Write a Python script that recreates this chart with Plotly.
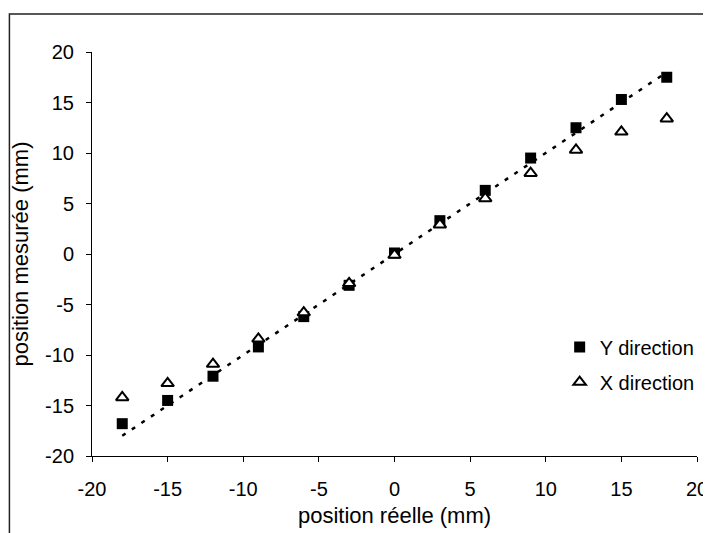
import plotly.graph_objects as go

# Data
positions_reelles = [-18, -15, -12, -9, -6, -3, 0, 3, 6, 9, 12, 15, 18]
y_direction = [-16.8, -14.5, -12.1, -9.2, -6.2, -3.1, 0.1, 3.3, 6.3, 9.5, 12.5, 15.3, 17.5]
x_direction = [-14.2, -12.8, -10.9, -8.4, -5.8, -2.9, -0.1, 2.9, 5.5, 8.0, 10.3, 12.1, 13.4]
tick_vals = [-20, -15, -10, -5, 0, 5, 10, 15, 20]
tick_text = ["-20", "-15", "-10", "-5", "0", "5", "10", "15", "20"]

# ideal line y = x over the measured range
ideal_x = [positions_reelles[0], positions_reelles[-1]]
ideal_y = list(ideal_x)

FONT = "Arial, Liberation Sans, sans-serif"

fig = go.Figure()

fig.add_trace(go.Scatter(
    x=ideal_x, y=ideal_y, mode="lines",
    line=dict(color="black", width=2.5, dash="4px,7.5px"),
    showlegend=False, hoverinfo="skip",
))
fig.add_trace(go.Scatter(
    x=positions_reelles, y=y_direction, mode="markers", name="Y direction",
    legendgroup="y",
    marker=dict(symbol="square", size=11, color="black", line=dict(width=0)),
))
fig.add_trace(go.Scatter(
    x=positions_reelles, y=x_direction, mode="markers", name="X direction",
    legendgroup="x",
    marker=dict(symbol="triangle-up", size=11, color="white",
                line=dict(color="black", width=2)),
))

axis_common = dict(
    range=[-20, 20], tickvals=tick_vals, ticktext=tick_text, automargin=False,
    showgrid=False, zeroline=False, showline=True, linecolor="black", linewidth=1,
    ticks="outside", ticklen=5, tickcolor="black", tickwidth=1,
    tickfont=dict(family=FONT, size=20, color="black"),
)

fig.update_layout(
    width=703, height=525,
    margin=dict(l=84, r=11, t=44, b=77),
    paper_bgcolor="white", plot_bgcolor="white",
    font=dict(family=FONT, color="black"),
    xaxis=dict(**axis_common, ticklabelstandoff=10,
               title=dict(text="position réelle (mm)", font=dict(family=FONT, size=22), standoff=8)),
    yaxis=dict(**axis_common, ticklabelstandoff=8,
               title=dict(text="position mesurée (mm)", font=dict(family=FONT, size=22), standoff=10)),
    legend=dict(x=0.773, y=0.318, xanchor="left", yanchor="top",
                font=dict(family=FONT, size=20, color="black"),
                bgcolor="rgba(0,0,0,0)", tracegroupgap=6, traceorder="grouped"),
    shapes=[dict(type="rect", xref="paper", yref="paper",
                 x0=-0.1365, y0=-0.25, x1=1.05, y1=1.094,
                 line=dict(color="#222", width=1.5), fillcolor="rgba(0,0,0,0)", layer="below")],
)

fig.write_html("out.html")
